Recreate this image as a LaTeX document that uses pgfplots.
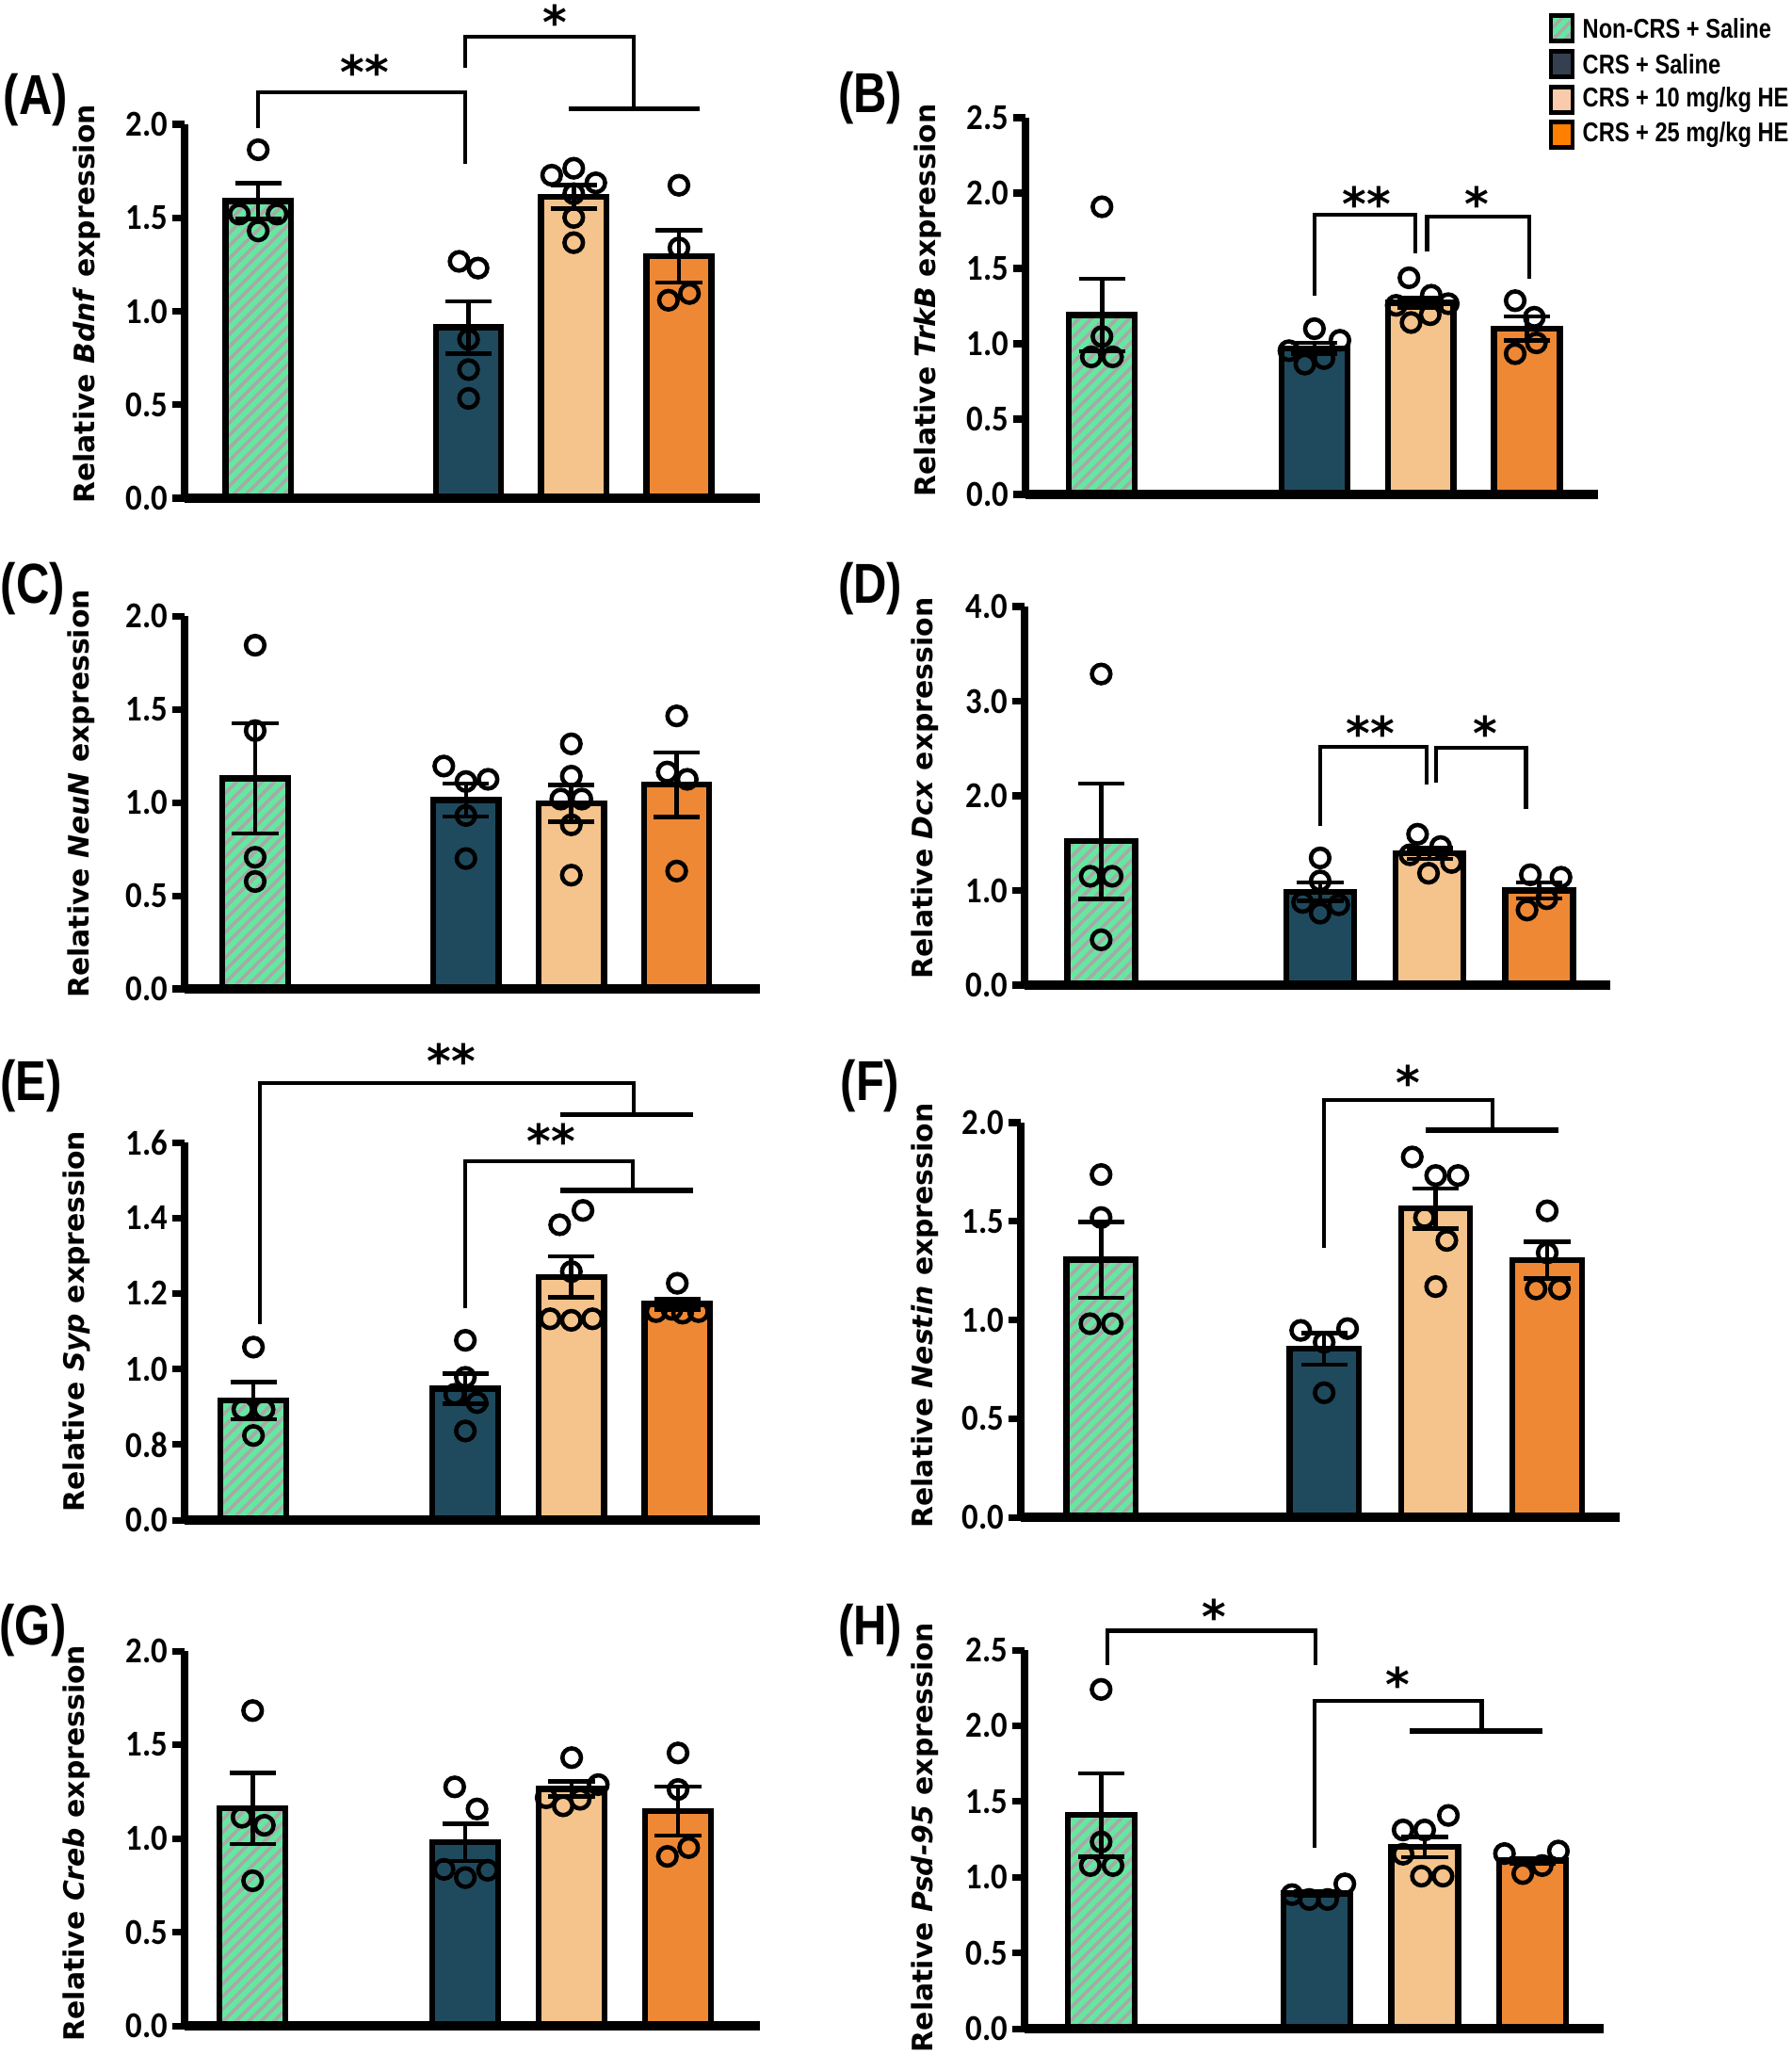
\documentclass[border=0pt]{standalone}
\usepackage{fontspec}
\setmainfont{DejaVu Sans}
\newfontfamily\tickfont[FakeStretch=0.9]{Carlito}
\newfontfamily\narrowfont[FakeStretch=0.82]{Liberation Sans}
\usepackage{pgfplots}
\pgfplotsset{compat=1.18}
\usetikzlibrary{patterns.meta}

\definecolor{hegreen}{RGB}{100,232,160}
\definecolor{hegrey}{RGB}{168,168,168}
\definecolor{crsdark}{RGB}{31,74,94}
\definecolor{heten}{RGB}{245,195,140}
\definecolor{hetwentyfive}{RGB}{238,136,52}

\pgfplotsset{
  panel/.style={
    scale only axis, anchor=south west, clip=false, axis on top,
    axis x line*=bottom, axis y line*=left,
    x axis line style={-, line width=2.8pt},
    y axis line style={-, line width=2.2pt},
    xtick=\empty, ymin=0,
    tick align=outside, major tick length=3.8pt,
    every tick/.style={black, line width=2pt},
    yticklabel style={font=\tickfont\bfseries\fontsize{11}{11}\selectfont, inner sep=1pt},
  },
  bars/.style={ybar, bar width=0.62, bar shift=0pt, draw=black, line width=1.8pt,
    error bars/y dir=both, error bars/y explicit,
    error bars/error bar style={line width=1.3pt, black},
    error bars/error mark options={rotate=90, line width=1.3pt, black, mark size=7pt}},
  nonc/.style={bars, pattern={Lines[angle=45,distance=2.7pt,line width=1.05pt]},
    pattern color=hegrey, preaction={fill=hegreen}},
  crs/.style={bars, fill=crsdark},
  hel/.style={bars, fill=heten},
  heh/.style={bars, fill=hetwentyfive},
  dots/.style={only marks, mark=o, mark size=2.8pt, mark options={line width=1.3pt, black}},
}
\tikzset{
  sig/.style={line width=1.2pt, black},
  cross/.style={line width=1.6pt, black},
  sigtext/.style={font=\bfseries\fontsize{14}{14}\selectfont, inner sep=0pt, yshift=-0.6mm},
  ylab/.style={rotate=90, font=\bfseries\fontsize{8.5}{10}\selectfont},
  plab/.style={font=\narrowfont\bfseries\fontsize{17}{17}\selectfont},
  leg/.style={font=\narrowfont\bfseries\fontsize{8.2}{9}\selectfont, anchor=west, inner sep=0pt},
}

\begin{document}
\begin{tikzpicture}
\useasboundingbox (0,0) rectangle (190.2mm,-218.2mm);

% (A) Bdnf
\begin{axis}[panel, at={(19.6mm,-52.9mm)}, width=61.1mm, height=39.7mm,
  xmin=-0.70, xmax=4.77, ymax=2.0,
  ytick={0,0.5,1,1.5,2}, yticklabels={0.0,0.5,1.0,1.5,2.0}]
\addplot[nonc] coordinates {(0,1.59) +- (0,0.095)};
\addplot[crs] coordinates {(2,0.914) +- (0,0.14)};
\addplot[hel] coordinates {(3,1.613) +- (0,0.063)};
\addplot[heh] coordinates {(4,1.294) +- (0,0.14)};
\addplot[dots] coordinates {
  (0,1.864) (-0.18,1.52) (0.18,1.52) (0,1.43)
  (1.91,1.267) (2.09,1.231) (2,0.85) (2,0.688) (2,0.534)
  (2.79,1.728) (3,1.765) (3.21,1.687) (3,1.629) (3,1.502) (3,1.367)
  (4,1.674) (4,1.339) (4.1,1.095) (3.9,1.059)};
\draw[sig] (axis cs:0,1.98) |- (axis cs:1.97,2.17) -- (axis cs:1.97,1.79);
\node[sigtext] at (axis cs:1.01,2.31) {**};
\draw[sig] (axis cs:1.97,2.30) |- (axis cs:3.57,2.47) -- (axis cs:3.57,2.084);
\draw[cross] (axis cs:2.95,2.084) -- (axis cs:4.2,2.084);
\node[sigtext] at (axis cs:2.82,2.58) {*};
\end{axis}

% (B) TrkB
\begin{axis}[panel, at={(108.9mm,-52.5mm)}, width=60.8mm, height=40.0mm,
  xmin=-0.72, xmax=4.67, ymax=2.5,
  ytick={0,0.5,1,1.5,2,2.5}, yticklabels={0.0,0.5,1.0,1.5,2.0,2.5}]
\addplot[nonc] coordinates {(0,1.19) +- (0,0.24)};
\addplot[crs] coordinates {(2,0.97) +- (0,0.036)};
\addplot[hel] coordinates {(3,1.272) +- (0,0.034)};
\addplot[heh] coordinates {(4,1.102) +- (0,0.08)};
\addplot[dots] coordinates {
  (0,1.909) (0,1.048) (-0.1,0.913) (0.1,0.913)
  (2,1.10) (2.24,1.023) (1.76,0.954) (2.09,0.902) (1.91,0.865)
  (2.89,1.438) (3.10,1.322) (3.26,1.266) (2.77,1.255) (3.09,1.193) (2.91,1.141)
  (3.89,1.286) (4.07,1.176) (4.09,1.006) (3.89,0.934)};
\draw[sig] (axis cs:2,1.32) |- (axis cs:2.95,1.857) -- (axis cs:2.95,1.60);
\draw[sig] (axis cs:3.06,1.61) |- (axis cs:4.02,1.846) -- (axis cs:4.02,1.43);
\node[sigtext] at (axis cs:2.49,1.97) {**};
\node[sigtext] at (axis cs:3.53,1.97) {*};
\end{axis}

% (C) NeuN
\begin{axis}[panel, at={(19.6mm,-105.0mm)}, width=61.1mm, height=39.6mm,
  xmin=-0.67, xmax=4.79, ymax=2.0,
  ytick={0,0.5,1,1.5,2}, yticklabels={0.0,0.5,1.0,1.5,2.0}]
\addplot[nonc] coordinates {(0,1.129) +- (0,0.296)};
\addplot[crs] coordinates {(2,1.013) +- (0,0.089)};
\addplot[hel] coordinates {(3,0.995) +- (0,0.099)};
\addplot[heh] coordinates {(4,1.095) +- (0,0.172)};
\addplot[dots] coordinates {
  (0,1.843) (0,1.385) (0,0.706) (0,0.576)
  (1.79,1.195) (2.21,1.124) (2,1.112) (2,0.93) (2,0.699)
  (3,1.314) (3,1.141) (2.9,1.018) (3.1,1.018) (3,0.88) (3,0.61)
  (4,1.464) (3.91,1.163) (4.1,1.124) (4,0.632)};
\end{axis}

% (D) Dcx
\begin{axis}[panel, at={(108.8mm,-104.6mm)}, width=62.2mm, height=40.2mm,
  xmin=-0.70, xmax=4.65, ymax=4.0,
  ytick={0,1,2,3,4}, yticklabels={0.0,1.0,2.0,3.0,4.0}]
\addplot[nonc] coordinates {(0,1.52) +- (0,0.61)};
\addplot[crs] coordinates {(2,0.987) +- (0,0.097)};
\addplot[hel] coordinates {(3,1.39) +- (0,0.057)};
\addplot[heh] coordinates {(4,1.0) +- (0,0.086)};
\addplot[dots] coordinates {
  (0,3.287) (-0.1,1.15) (0.1,1.15) (0,0.479)
  (2,1.344) (2,1.101) (1.84,0.874) (2.17,0.849) (2,0.761)
  (2.89,1.594) (3.10,1.464) (2.82,1.377) (3.2,1.296) (2.99,1.182)
  (3.92,1.166) (4.2,1.14) (4.07,0.913) (3.89,0.794)};
\draw[sig] (axis cs:2,1.684) |- (axis cs:2.975,2.52) -- (axis cs:2.975,2.12);
\draw[sig] (axis cs:3.06,2.14) |- (axis cs:3.88,2.51) -- (axis cs:3.88,1.862);
\node[sigtext] at (axis cs:2.46,2.72) {**};
\node[sigtext] at (axis cs:3.51,2.72) {*};
\end{axis}

% (E) Syp, broken axis: 0.0 drawn where 0.6 would be
\begin{axis}[panel, at={(19.6mm,-161.4mm)}, width=61.1mm, height=40.1mm,
  clip=true, clip mode=individual,
  xmin=-0.65, xmax=4.78, ymin=0.6, ymax=1.6,
  ytick={0.6,0.8,1.0,1.2,1.4,1.6}, yticklabels={0.0,0.8,1.0,1.2,1.4,1.6}]
\addplot[nonc] coordinates {(0,0.916) +- (0,0.049)};
\addplot[crs] coordinates {(2,0.948) +- (0,0.04)};
\addplot[hel] coordinates {(3,1.244) +- (0,0.054)};
\addplot[heh] coordinates {(4,1.172) +- (0,0.014)};
\addplot[dots] coordinates {
  (0,1.058) (-0.1,0.893) (0.1,0.893) (0,0.824)
  (2,1.076) (2,0.978) (1.9,0.933) (2.11,0.911) (2,0.836)
  (3.11,1.42) (2.89,1.382) (3,1.258) (2.8,1.133) (3,1.129) (3.2,1.133)
  (4,1.227) (3.8,1.152) (3.95,1.158) (4.05,1.148) (4.2,1.152)};
\draw[sig] (axis cs:0.06,1.12) |- (axis cs:3.59,1.758) -- (axis cs:3.59,1.674);
\draw[cross] (axis cs:2.90,1.674) -- (axis cs:4.15,1.674);
\node[sigtext] at (axis cs:1.87,1.831) {**};
\draw[sig] (axis cs:2.0,1.16) |- (axis cs:3.58,1.551) -- (axis cs:3.58,1.473);
\draw[cross] (axis cs:2.90,1.473) -- (axis cs:4.15,1.473);
\node[sigtext] at (axis cs:2.81,1.62) {**};
\end{axis}

% (F) Nestin
\begin{axis}[panel, at={(108.4mm,-161.1mm)}, width=63.6mm, height=41.9mm,
  xmin=-0.72, xmax=4.65, ymax=2.0,
  ytick={0,0.5,1,1.5,2}, yticklabels={0.0,0.5,1.0,1.5,2.0}]
\addplot[nonc] coordinates {(0,1.305) +- (0,0.192)};
\addplot[crs] coordinates {(2,0.853) +- (0,0.079)};
\addplot[hel] coordinates {(3,1.565) +- (0,0.101)};
\addplot[heh] coordinates {(4,1.302) +- (0,0.093)};
\addplot[dots] coordinates {
  (0,1.737) (0,1.519) (-0.1,0.981) (0.1,0.981)
  (1.79,0.947) (2.21,0.956) (2,0.887) (2,0.631)
  (2.79,1.826) (3.0,1.732) (3.2,1.732) (2.9,1.519) (3.1,1.403) (3,1.169)
  (4,1.553) (4,1.34) (3.9,1.157) (4.11,1.157)};
\draw[sig] (axis cs:2.0,1.365) |- (axis cs:3.51,2.113) -- (axis cs:3.51,1.962);
\draw[cross] (axis cs:2.91,1.962) -- (axis cs:4.10,1.962);
\node[sigtext] at (axis cs:2.75,2.235) {*};
\end{axis}

% (G) Creb
\begin{axis}[panel, at={(19.6mm,-215.1mm)}, width=61.1mm, height=39.8mm,
  xmin=-0.64, xmax=4.77, ymax=2.0,
  ytick={0,0.5,1,1.5,2}, yticklabels={0.0,0.5,1.0,1.5,2.0}]
\addplot[nonc] coordinates {(0,1.16) +- (0,0.19)};
\addplot[crs] coordinates {(2,0.979) +- (0,0.10)};
\addplot[hel] coordinates {(3,1.264) +- (0,0.04)};
\addplot[heh] coordinates {(4,1.146) +- (0,0.13)};
\addplot[dots] coordinates {
  (0,1.682) (-0.1,1.113) (0.11,1.07) (0,0.774)
  (1.9,1.275) (2.11,1.157) (1.8,0.835) (2.21,0.83) (2,0.791)
  (3,1.431) (3.25,1.287) (2.76,1.217) (3.08,1.209) (2.92,1.174)
  (4,1.456) (4,1.261) (4.1,0.951) (3.9,0.904)};
\end{axis}

% (H) Psd-95
\begin{axis}[panel, at={(108.8mm,-215.4mm)}, width=61.5mm, height=40.2mm,
  xmin=-0.71, xmax=4.66, ymax=2.5,
  ytick={0,0.5,1,1.5,2,2.5}, yticklabels={0.0,0.5,1.0,1.5,2.0,2.5}]
\addplot[nonc] coordinates {(0,1.41) +- (0,0.275)};
\addplot[crs] coordinates {(2,0.892) +- (0,0.014)};
\addplot[hel] coordinates {(3,1.199) +- (0,0.068)};
\addplot[heh] coordinates {(4,1.11) +- (0,0.017)};
\addplot[dots] coordinates {
  (0,2.24) (0,1.233) (-0.1,1.077) (0.11,1.077)
  (2.26,0.956) (1.77,0.885) (1.93,0.853) (2.1,0.853)
  (3.22,1.408) (2.8,1.312) (3,1.312) (2.8,1.152) (2.97,1.007) (3.17,1.007)
  (4.24,1.173) (3.74,1.156) (4.09,1.077) (3.91,1.024)};
\draw[sig] (axis cs:0.06,2.40) |- (axis cs:1.99,2.628) -- (axis cs:1.99,2.40);
\node[sigtext] at (axis cs:1.05,2.76) {*};
\draw[sig] (axis cs:1.98,1.195) |- (axis cs:3.53,2.165) -- (axis cs:3.53,1.967);
\draw[cross] (axis cs:2.86,1.967) -- (axis cs:4.09,1.967);
\node[sigtext] at (axis cs:2.75,2.31) {*};
\end{axis}

% y labels
\node[ylab] at (9.2mm,-32.3mm) {Relative \textit{Bdnf} expression};
\node[ylab] at (98.5mm,-31.9mm) {Relative \textit{TrkB} expression};
\node[ylab] at (8.6mm,-84.3mm) {Relative \textit{NeuN} expression};
\node[ylab] at (98.2mm,-83.7mm) {Relative \textit{Dcx} expression};
\node[ylab] at (8.1mm,-140.3mm) {Relative \textit{Syp} expression};
\node[ylab] at (98.2mm,-139.7mm) {Relative \textit{Nestin} expression};
\node[ylab] at (8.1mm,-195.7mm) {Relative \textit{Creb} expression};
\node[ylab] at (98.2mm,-195.1mm) {Relative \textit{Psd-95} expression};

% panel letters
\node[plab] at (3.8mm,-10.6mm) {(A)};
\node[plab] at (92.4mm,-10.4mm) {(B)};
\node[plab] at (3.5mm,-62.5mm) {(C)};
\node[plab] at (92.4mm,-62.5mm) {(D)};
\node[plab] at (3.3mm,-115.3mm) {(E)};
\node[plab] at (92.4mm,-115.3mm) {(F)};
\node[plab] at (3.5mm,-173.1mm) {(G)};
\node[plab] at (92.4mm,-173.1mm) {(H)};

% legend
\draw[line width=1.4pt, pattern={Lines[angle=45,distance=2.6pt,line width=1pt]}, pattern color=hegrey, preaction={fill=hegreen}]
  (164.7mm,-4.35mm) rectangle (167.0mm,-1.65mm);
\node[leg] at (168.0mm,-3.0mm) {Non-CRS + Saline};
\draw[line width=1.4pt, fill={rgb,255:red,52;green,63;blue,80}] (164.7mm,-8.15mm) rectangle (167.0mm,-5.45mm);
\node[leg] at (168.0mm,-6.8mm) {CRS + Saline};
\draw[line width=1.4pt, fill={rgb,255:red,249;green,203;blue,170}] (164.7mm,-11.95mm) rectangle (167.0mm,-9.25mm);
\node[leg] at (168.0mm,-10.6mm) {CRS + 10 mg/kg HE};
\draw[line width=1.4pt, fill={rgb,255:red,255;green,128;blue,0}] (164.7mm,-15.65mm) rectangle (167.0mm,-12.95mm);
\node[leg] at (168.0mm,-14.3mm) {CRS + 25 mg/kg HE};
\end{tikzpicture}
\end{document}
